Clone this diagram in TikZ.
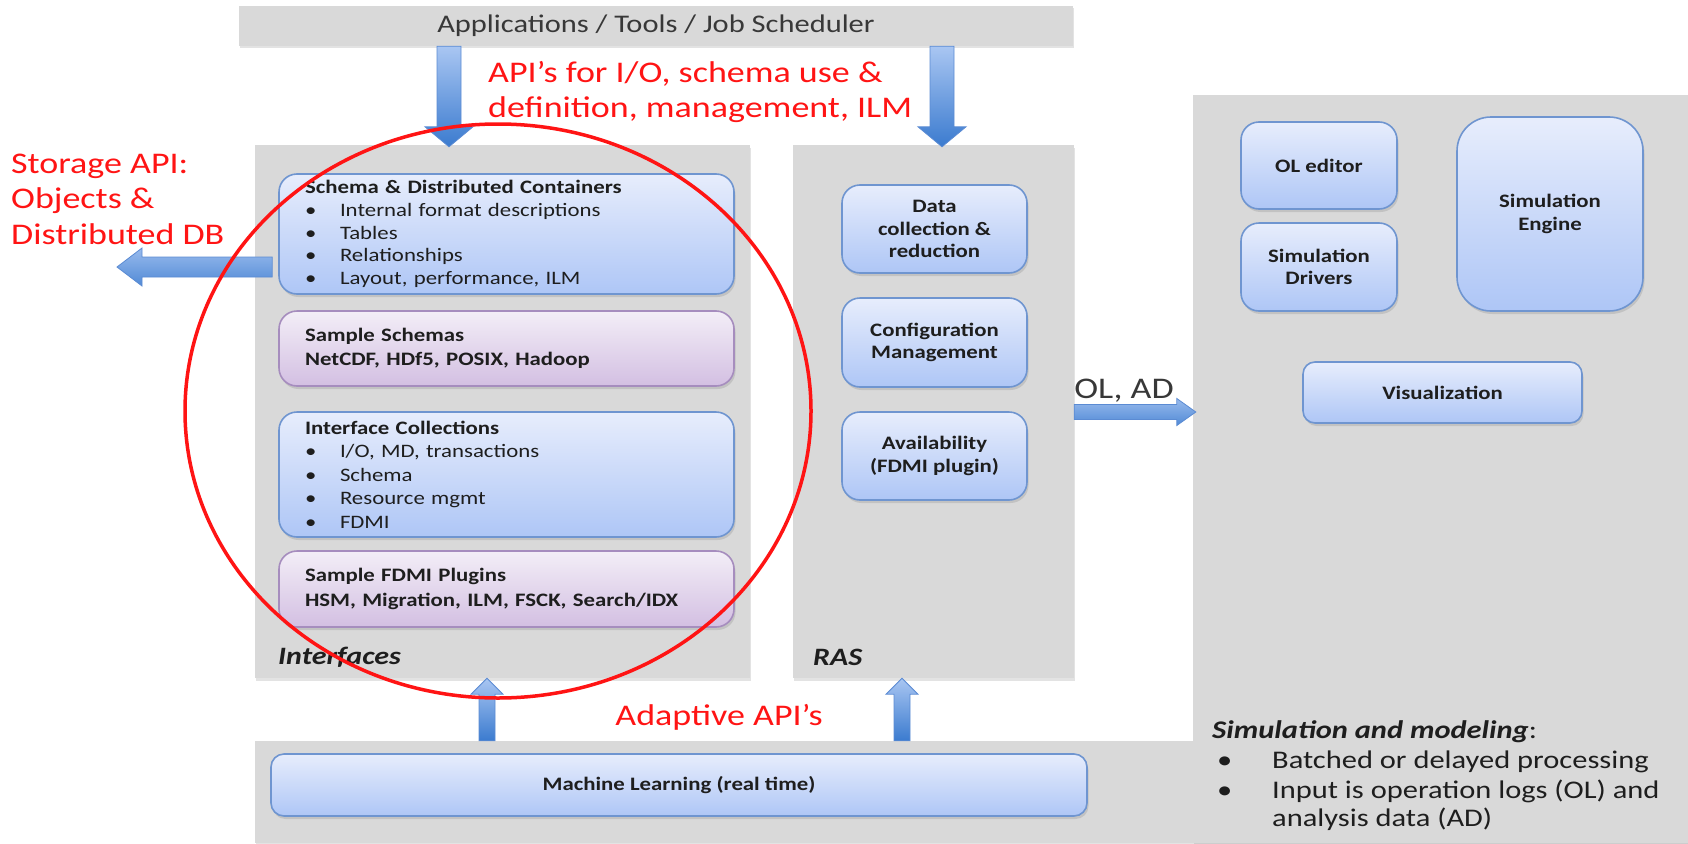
\documentclass[tikz,border=0pt]{standalone}
\usepackage{fontspec}
\setmainfont{Carlito}[FakeStretch=1.2]
\usetikzlibrary{calc,shadows,shapes.geometric}

\definecolor{panelgray}{HTML}{D9D9D9}
\definecolor{boxtop}{HTML}{E7EDFC}
\definecolor{boxbot}{HTML}{AEC6F6}
\definecolor{boxline}{HTML}{6F95D0}
\definecolor{purtop}{HTML}{F3EEF7}
\definecolor{purbot}{HTML}{D3BFE2}
\definecolor{purline}{HTML}{A68DBE}
\definecolor{arrlight}{HTML}{A9C6F2}
\definecolor{arrdark}{HTML}{3B7BCF}
\definecolor{arrline}{HTML}{5B8BD3}
\definecolor{annred}{HTML}{FF1414}
\definecolor{inktext}{HTML}{1E1E1E}
\definecolor{bartext}{HTML}{383838}

% block arrow from coordinate #1 to coordinate #2:
% #3 half shaft width, #4 half head width, #5 head length, #6 path style
\newcommand\blockarrow[6]{%
  \coordinate (#1h) at ($(#2)!#5!(#1)$);
  \path[#6] ($(#1)!#3!90:(#2)$) -- ($(#1h)!#3!90:(#2)$) -- ($(#1h)!#4!90:(#2)$)
    -- (#2) -- ($(#1h)!#4!-90:(#2)$) -- ($(#1h)!#3!-90:(#2)$)
    -- ($(#1)!#3!-90:(#2)$) -- cycle;
}
\newcommand\bitem{\makebox[35pt][l]{\textbullet}}
\newcommand\sitem{\hspace*{5pt}\makebox[55pt][l]{\textbullet}}

\tikzset{
  panel/.style={fill=panelgray, draw=none, inner sep=0pt,
    drop shadow={shadow xshift=1pt, shadow yshift=-2.5pt, opacity=0.22}},
  bluebox/.style={top color=boxtop, bottom color=boxbot, draw=boxline,
    line width=1.6pt, rounded corners=#1, inner sep=0pt, text=inktext,
    font=\bfseries\fontsize{19}{22.7}\selectfont, align=center,
    drop shadow={shadow xshift=1.5pt, shadow yshift=-3pt, opacity=0.25}},
  bluebox/.default=18pt,
  purbox/.style={bluebox=18pt, top color=purtop, bottom color=purbot, draw=purline},
  listbox/.style={align=left, inner xsep=26pt, text width=403pt,
    font=\fontsize{19}{22.7}\selectfont},
  redlabel/.style={text=annred, font=\fontsize{30}{35.5}\selectfont,
    align=left, inner sep=0pt},
  panellabel/.style={font=\bfseries\itshape\fontsize{25}{30}\selectfont,
    text=inktext, inner sep=0pt, anchor=west},
  bluearrow/.style={top color=arrlight, bottom color=arrdark, draw=arrline,
    line width=0.8pt},
  sidearrow/.style={top color=arrlight!85!arrdark, bottom color=arrdark!80!arrlight,
    draw=arrline, line width=0.8pt},
}

\begin{document}
\begin{tikzpicture}[x=1pt, y=-1pt]
\useasboundingbox (0,0) rectangle (1688,843);

% grey panels
\node[panel, minimum width=834, minimum height=40] (apps) at (656,26)
  {\textcolor{bartext}{\fontsize{25.4}{30}\selectfont Applications / Tools / Job Scheduler}};
\node[panel, minimum width=1433, minimum height=102] (mlp) at (971.5,792) {};
\node[panel, minimum width=495, minimum height=748] (sim) at (1440.5,469) {};
\node[panel, minimum width=495, minimum height=533] (ifc) at (502.5,411.5) {};
\node[panel, minimum width=281, minimum height=533] (ras) at (933.5,411.5) {};

% boxes of the interfaces panel
\node[bluebox, listbox] (b1) at (506.5,234) [minimum height=120]
  {\textbf{Schema \& Distributed Containers}\\
   \bitem Internal format descriptions\\
   \bitem Tables\\
   \bitem Relationships\\
   \bitem Layout, performance, ILM};
\node[purbox, listbox, font=\bfseries\fontsize{19}{24}\selectfont] (b2) at (506.5,348.5) [minimum height=75]
  {Sample Schemas\\NetCDF, HDf5, POSIX, Hadoop};
\node[bluebox, listbox, font=\fontsize{19}{23.5}\selectfont] (b3) at (506.5,474.5) [minimum height=125]
  {\textbf{Interface Collections}\\
   \bitem I/O, MD, transactions\\
   \bitem Schema\\
   \bitem Resource mgmt\\
   \bitem FDMI};
\node[purbox, listbox, font=\bfseries\fontsize{19}{25}\selectfont] (b4) at (506.5,589) [minimum height=76]
  {Sample FDMI Plugins\\HSM, Migration, ILM, FSCK, Search/IDX};
\node[panellabel] (ifclabel) at (278,657) {Interfaces};

% boxes of the RAS panel
\node[bluebox, minimum width=185, minimum height=88] (r1) at (934.5,229)
  {Data\\collection \&\\reduction};
\node[bluebox, minimum width=185, minimum height=89] (r2) at (934.5,342.5)
  {Configuration\\Management};
\node[bluebox, minimum width=185, minimum height=88] (r3) at (934.5,456)
  {Availability\\(FDMI plugin)};
\node[panellabel] (raslabel) at (813,657) {RAS};

% simulation and modeling panel
\node[bluebox, minimum width=156, minimum height=87] (ole) at (1319,165.5) {OL editor};
\node[bluebox, minimum width=156, minimum height=88] (sdr) at (1319,267) {Simulation\\Drivers};
\node[bluebox=34pt, minimum width=186, minimum height=194] (sen) at (1550,214) {Simulation\\Engine};
\node[bluebox=12pt, minimum width=279, minimum height=61] (vis) at (1442.5,392.5) {Visualization};
\node[anchor=west, align=left, inner sep=0pt, text=inktext,
      font=\fontsize{25.4}{30}\selectfont] (simtext) at (1212,776)
  {\textbf{\textit{Simulation and modeling}}:\\
   \sitem Batched or delayed processing\\
   \sitem Input is operation logs (OL) and\\[-2pt]
   \hspace*{60pt}analysis data (AD)};

% machine learning strip
\node[bluebox=13pt, minimum width=816, minimum height=62,
      font=\bfseries\fontsize{19}{22}\selectfont] (ml) at (679,785) {Machine Learning (real time)};

% arrow end points
\coordinate (dx1) at (449,0);
\coordinate (dx2) at (942,0);
\coordinate (ux1) at (487,0);
\coordinate (ux2) at (902,0);
\coordinate (ly) at (0,267);
\coordinate (ry) at (0,412);
\coordinate (a1s) at (apps.south -| dx1);
\coordinate (a1e) at ($(ifc.north -| dx1)+(0,2)$);
\coordinate (a2s) at (apps.south -| dx2);
\coordinate (a2e) at ($(ras.north -| dx2)+(0,2)$);
\coordinate (u1s) at (mlp.north -| ux1);
\coordinate (u1e) at (ifc.south -| ux1);
\coordinate (u2s) at (mlp.north -| ux2);
\coordinate (u2e) at (ras.south -| ux2);
\coordinate (ls) at ($(b1.west |- ly)+(-6,0)$);
\coordinate (le) at (117,267);
\coordinate (rs) at (ras.east |- ry);
\coordinate (re) at ($(sim.west |- ry)+(3,0)$);

% block arrows
\blockarrow{a1s}{a1e}{12pt}{24pt}{20pt}{bluearrow}
\blockarrow{a2s}{a2e}{12pt}{24pt}{20pt}{bluearrow}
\blockarrow{u1s}{u1e}{8pt}{16pt}{16pt}{bluearrow}
\blockarrow{u2s}{u2e}{8pt}{16pt}{16pt}{bluearrow}
\blockarrow{ls}{le}{10pt}{19pt}{25pt}{sidearrow}
\blockarrow{rs}{re}{7.5pt}{13.5pt}{19pt}{sidearrow}

% arrow labels
\node[redlabel, anchor=west] (apilabel) at (488,92)
  {API’s for I/O, schema use \&\\definition, management, ILM};
\node[redlabel, anchor=west] (storelabel) at (11,199)
  {Storage API:\\Objects \&\\Distributed DB};
\node[redlabel] (adaptlabel) at (719,717) {Adaptive API’s};
\node[inner sep=0pt, text=bartext, font=\fontsize{30}{35}\selectfont] (oladlabel) at (1124,391) {OL, AD};

% highlight ring round the interfaces
\node[ellipse, draw=annred, line width=3.5pt, inner sep=0pt,
      minimum width=626, minimum height=574] (ring) at (498,411) {};
\end{tikzpicture}
\end{document}
